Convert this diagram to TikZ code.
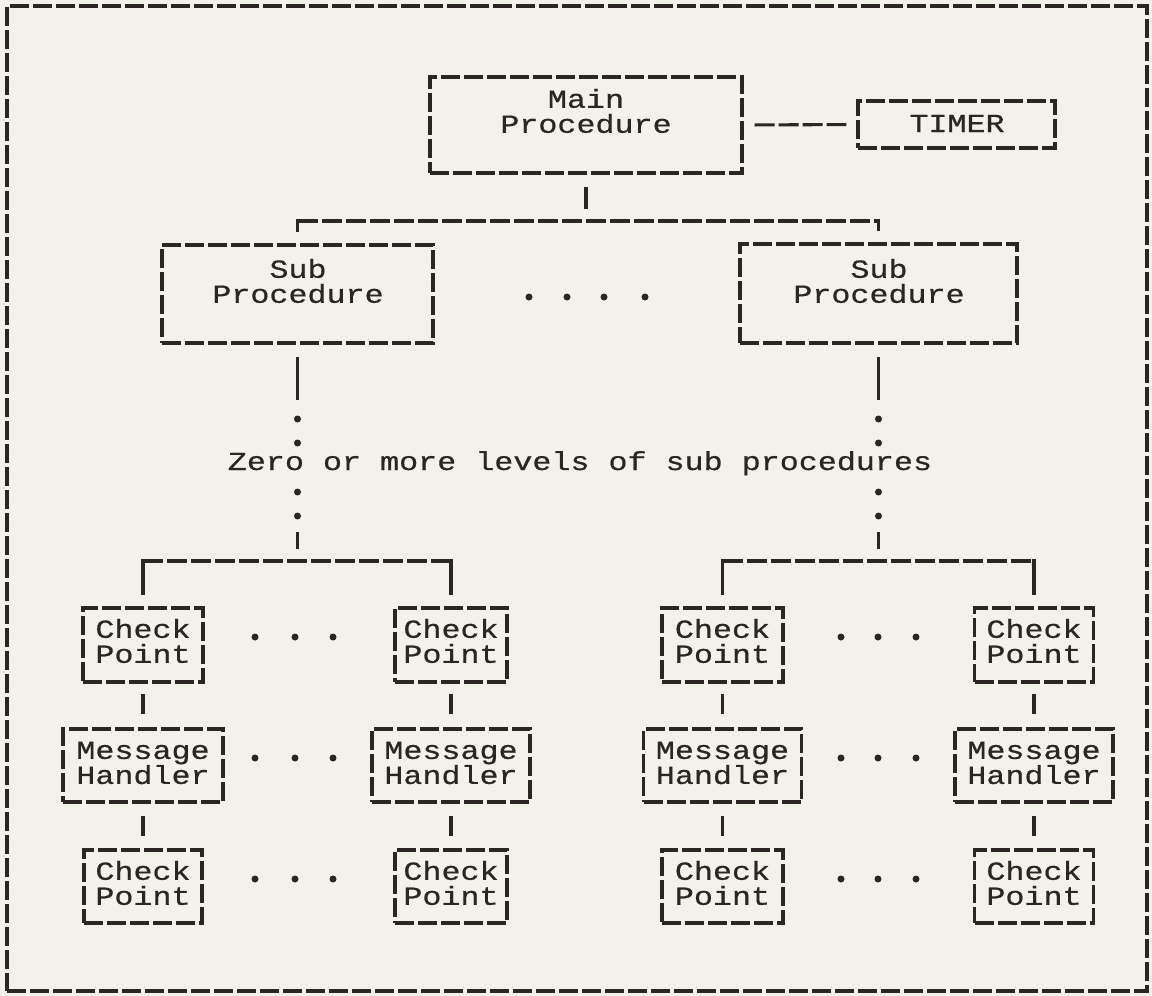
\documentclass[tikz,border=0pt]{standalone}
\usepackage{fontspec}
\newfontfamily\tw[FakeStretch=1.22,FakeBold=0.6]{Liberation Mono}
\definecolor{paper}{HTML}{F2F2EA}
\definecolor{ink}{HTML}{2B2523}
\begin{document}
\begin{tikzpicture}[x=1pt,y=-1pt,
  boxs/.style={draw=ink, line width=3.2pt, dash pattern=on 19pt off 4pt, rectangle, inner sep=0pt},
  conn/.style={draw=ink, line width=3.4pt, line cap=rect},
  busline/.style={draw=ink, line width=3.1pt, dash pattern=on 20pt off 4pt},
  lbl/.style={font=\tw\fontsize{26}{25}\selectfont, text=ink, align=center, inner sep=0pt},
  dotn/.style={circle, fill=ink, minimum size=7pt, inner sep=0pt}]
\fill[paper] (0,0) rectangle (1152,996);
\useasboundingbox (0,0) rectangle (1152,996);

% frame
\node[boxs, minimum width=1140pt, minimum height=985pt] (frame) at (577,498.5) {};

% top level
\node[boxs, minimum width=312pt, minimum height=96pt] (main) at (586,125) {};
\node[lbl] (mainT) at (586,111) {Main\\Procedure};
\node[boxs, minimum width=197pt, minimum height=47pt] (timer) at (956.5,124.5) {};
\node[lbl, anchor=base] (timerT) at (957,132) {TIMER};
\draw[busline, shorten <=11pt, shorten >=10pt] (main.east) -- (timer.west);

% sub procedures
\node[boxs, minimum width=271pt, minimum height=98pt] (subL) at (297.5,294) {};
\node[lbl] (subLT) at (298,281) {Sub\\Procedure};
\node[boxs, minimum width=277pt, minimum height=99pt] (subR) at (878.5,293.5) {};
\node[lbl] (subRT) at (879,281) {Sub\\Procedure};
\foreach \x [count=\i] in {529,567,604,645} \node[dotn] (sd\i) at (\x,297) {};

\coordinate (busTop) at (586,221);
\draw[conn, shorten <=14pt, shorten >=14pt] (main.south) -- (busTop);
\draw[busline] (subL.north |- busTop) -- (subR.north |- busTop);
\draw[conn] ([yshift=13pt]subL.north) -- (subL.north |- busTop);
\draw[conn] ([yshift=13pt]subR.north) -- (subR.north |- busTop);

% levels text
\node[lbl, anchor=base] (levels) at (580,470) {Zero or more levels of sub procedures};

% columns of dots
\foreach \y [count=\i] in {419,443,492,516} \node[dotn] (dl\i) at (297.5,\y) {};
\foreach \y [count=\i] in {419,443,492,516} \node[dotn] (dr\i) at (878.5,\y) {};
\coordinate (lBus) at (297.5,561);
\coordinate (rBus) at (878.5,561);
\draw[conn, shorten <=14pt, shorten >=17pt] (subL.south) -- (dl1);
\draw[conn, shorten <=14pt, shorten >=14pt] (dl4) -- (lBus);
\draw[conn, shorten <=14pt, shorten >=17pt] (subR.south) -- (dr1);
\draw[conn, shorten <=14pt, shorten >=14pt] (dr4) -- (rBus);

% row 1 check points
\node[boxs, minimum width=120pt, minimum height=74pt] (cpA1) at (143,645) {};
\node[boxs, minimum width=112pt, minimum height=74pt] (cpB1) at (451,645) {};
\node[boxs, minimum width=121pt, minimum height=74pt] (cpC1) at (722.5,645) {};
\node[boxs, minimum width=119pt, minimum height=74pt] (cpD1) at (1034,645) {};
\node[lbl] (cpA1T) at (143,641) {Check\\Point};
\node[lbl] (cpB1T) at (451,641) {Check\\Point};
\node[lbl] (cpC1T) at (722.5,641) {Check\\Point};
\node[lbl] (cpD1T) at (1034,641) {Check\\Point};

% row 2 message handlers
\node[boxs, minimum width=160pt, minimum height=73pt] (mhA) at (143,765.5) {};
\node[boxs, minimum width=158pt, minimum height=73pt] (mhB) at (451,765.5) {};
\node[boxs, minimum width=158pt, minimum height=73pt] (mhC) at (722.5,765.5) {};
\node[boxs, minimum width=158pt, minimum height=73pt] (mhD) at (1034,765.5) {};
\node[lbl] (mhAT) at (143,763) {Message\\Handler};
\node[lbl] (mhBT) at (451,763) {Message\\Handler};
\node[lbl] (mhCT) at (722.5,763) {Message\\Handler};
\node[lbl] (mhDT) at (1034,763) {Message\\Handler};

% row 3 check points
\node[boxs, minimum width=118pt, minimum height=73pt] (cpA3) at (143,886.5) {};
\node[boxs, minimum width=112pt, minimum height=73pt] (cpB3) at (451,886.5) {};
\node[boxs, minimum width=121pt, minimum height=73pt] (cpC3) at (722.5,886.5) {};
\node[boxs, minimum width=119pt, minimum height=73pt] (cpD3) at (1034,886.5) {};
\node[lbl] (cpA3T) at (143,883) {Check\\Point};
\node[lbl] (cpB3T) at (451,883) {Check\\Point};
\node[lbl] (cpC3T) at (722.5,883) {Check\\Point};
\node[lbl] (cpD3T) at (1034,883) {Check\\Point};

% buses to row 1
\draw[busline] (cpA1.north |- lBus) -- (cpB1.north |- lBus);
\draw[conn] ([yshift=13pt]cpA1.north) -- (cpA1.north |- lBus);
\draw[conn] ([yshift=13pt]cpB1.north) -- (cpB1.north |- lBus);
\draw[busline] (cpC1.north |- rBus) -- (cpD1.north |- rBus);
\draw[conn] ([yshift=13pt]cpC1.north) -- (cpC1.north |- rBus);
\draw[conn] ([yshift=13pt]cpD1.north) -- (cpD1.north |- rBus);

% vertical links between rows
\foreach \c in {A,B,C,D} {
  \draw[conn, shorten <=12pt, shorten >=15pt] (cp\c1.south) -- (mh\c.north);
  \draw[conn, shorten <=14pt, shorten >=14pt] (mh\c.south) -- (cp\c3.north);
}

% ellipsis dots between columns
\foreach \y/\r in {637/a,758/b,879/c} {
  \foreach \x [count=\i] in {255,295,333} \node[dotn] (el\r\i) at (\x,\y) {};
  \foreach \x [count=\i] in {841,878,916} \node[dotn] (er\r\i) at (\x,\y) {};
}
\end{tikzpicture}
\end{document}
